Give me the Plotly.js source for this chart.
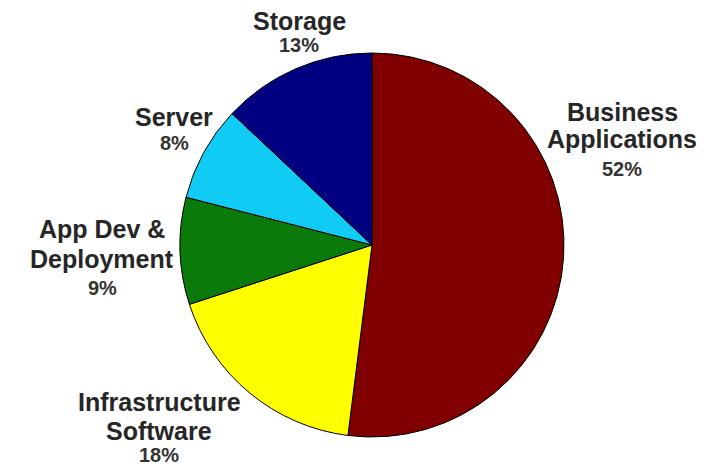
<!DOCTYPE html>
<html>
<head>
<meta charset="utf-8">
<script src="https://cdn.plot.ly/plotly-3.0.1.min.js"></script>
<style>html,body{margin:0;padding:0;background:#fff;}#chart{width:724px;height:465px;}</style>
</head>
<body>
<div id="chart"></div>
<script>
var categories = ["Business<br>Applications", "Infrastructure<br>Software", "App Dev &<br>Deployment", "Server", "Storage"];
var shares = [52, 18, 9, 8, 13];
var sliceColors = ["#800000", "#ffff00", "#0a7a0a", "#10ccf5", "#000080"];

var W = 724, H = 465;
var cx = 372, cy = 245, R = 192;

// label layout: x centre, y centre of each name line, y centre of percent line (pixels)
var labelPos = [
  {x: 622, yLines: [112, 139], yPct: 169},
  {x: 159, yLines: [402, 431], yPct: 455},
  {x: 102, yLines: [229, 259], yPct: 288},
  {x: 174, yLines: [117],      yPct: 143},
  {x: 299, yLines: [21],       yPct: 45}
];

var trace = {
  type: "pie",
  labels: categories,
  values: shares,
  sort: false,
  direction: "clockwise",
  rotation: 0,
  textinfo: "none",
  hoverinfo: "label+percent",
  marker: {colors: sliceColors, line: {color: "#000000", width: 1}},
  domain: {x: [(cx - R) / W, (cx + R) / W], y: [(H - cy - R) / H, (H - cy + R) / H]},
  showlegend: false
};

var nameFont = {family: "Liberation Sans, Arial, sans-serif", size: 25, color: "#262626", weight: "bold"};
var pctFont = {family: "Liberation Sans, Arial, sans-serif", size: 20, color: "#333333", weight: "bold"};

var annotations = [];
categories.forEach(function (c, i) {
  var p = labelPos[i];
  c.split("<br>").forEach(function (line, j) {
    annotations.push({
      xref: "paper", yref: "paper", x: p.x / W, y: 1 - p.yLines[j] / H,
      xanchor: "center", yanchor: "middle", showarrow: false, text: line, font: nameFont
    });
  });
  annotations.push({
    xref: "paper", yref: "paper", x: p.x / W, y: 1 - p.yPct / H,
    xanchor: "center", yanchor: "middle", showarrow: false, text: shares[i] + "%", font: pctFont
  });
});

var layout = {
  width: W, height: H,
  margin: {l: 0, r: 0, t: 0, b: 0},
  paper_bgcolor: "#ffffff",
  annotations: annotations
};

Plotly.newPlot("chart", [trace], layout, {displayModeBar: false, staticPlot: true});
</script>
</body>
</html>
